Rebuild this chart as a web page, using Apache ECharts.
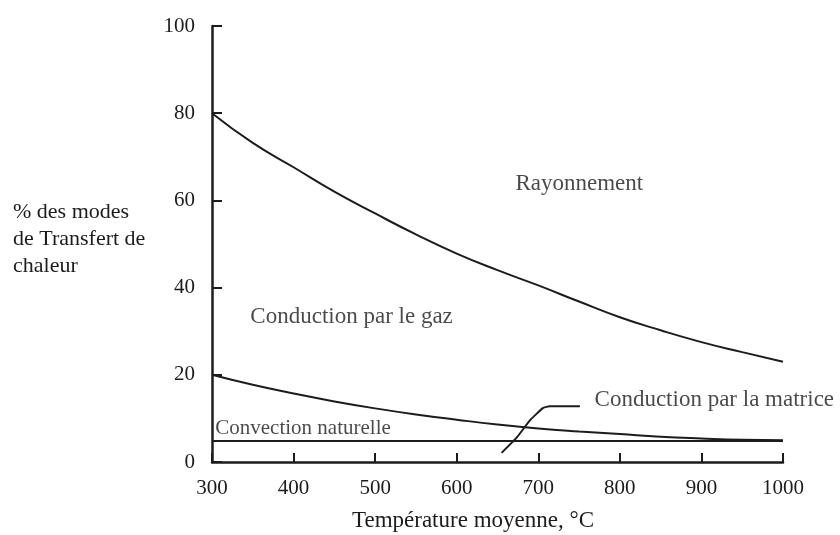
<!DOCTYPE html>
<html>
<head>
<meta charset="utf-8">
<script src="https://cdn.jsdelivr.net/npm/echarts@6/dist/echarts.min.js"></script>
<style>html,body{margin:0;padding:0;background:#fff}#c{width:840px;height:535px}</style>
</head>
<body>
<div id="c"></div>
<script>
var temps = [300, 350, 400, 450, 500, 550, 600, 650, 700, 750, 800, 850, 900, 950, 1000];
var rayonnementBoundary = [80, 73.2, 67.6, 62, 57, 52.2, 47.8, 44, 40.5, 36.8, 33.2, 30.2, 27.5, 25.2, 23];
var gazBoundary = [20, 17.7, 15.7, 13.9, 12.3, 10.9, 9.7, 8.6, 7.7, 7.0, 6.4, 5.8, 5.4, 5.1, 5.0];
var convectionLevel = [4.8, 4.8, 4.8, 4.8, 4.8, 4.8, 4.8, 4.8, 4.8, 4.8, 4.8, 4.8, 4.8, 4.8, 4.8];
var leaderX = [655, 674, 690, 706, 714, 751];
var leaderY = [2.1, 5.7, 9.6, 12.4, 12.8, 12.8];
var labelX = [672, 347, 304, 769];
var labelY = [63.8, 33.2, 7.8, 14.2];
var labelText = ['Rayonnement', 'Conduction par le gaz', 'Convection naturelle', 'Conduction par la matrice'];
var labelSize = [23, 23, 21, 23];
var xTicks = [300, 400, 500, 600, 700, 800, 900, 1000];
var yTicks = [0, 20, 40, 60, 80, 100];

var FONT = 'Liberation Serif';
var INK = '#1c1c1c';
function pairs(xs, ys) { return xs.map(function (x, i) { return [x, ys[i]]; }); }

var chart = echarts.init(document.getElementById('c'));
var lineStyle = { color: INK, width: 2 };
chart.setOption({
  animation: false,
  grid: { left: 212, right: 57, top: 26, bottom: 73 },
  xAxis: {
    type: 'value', min: xTicks[0], max: xTicks[xTicks.length - 1], interval: 100,
    axisLine: { lineStyle: { color: INK, width: 2.5 } },
    axisTick: { inside: true, length: 9, lineStyle: { color: INK, width: 2 } },
    axisLabel: { color: INK, fontFamily: FONT, fontSize: 21, margin: 16, formatter: function (v) { return String(v); } },
    splitLine: { show: false }
  },
  yAxis: {
    type: 'value', min: yTicks[0], max: yTicks[yTicks.length - 1], interval: 20,
    axisLine: { lineStyle: { color: INK, width: 2.5 } },
    axisTick: { inside: true, length: 10, lineStyle: { color: INK, width: 2 } },
    axisLabel: { color: INK, fontFamily: FONT, fontSize: 21, margin: 17, formatter: function (v) { return String(v); } },
    splitLine: { show: false }
  },
  graphic: [
    { type: 'text', left: 13, top: 199, style: { text: '% des modes\nde Transfert de\nchaleur', fontFamily: FONT, fontSize: 22, lineHeight: 27, fill: INK } },
    { type: 'text', left: 352, top: 509, style: { text: 'Température moyenne, °C', fontFamily: FONT, fontSize: 23, fill: INK } }
  ],
  series: [
    { type: 'line', smooth: true, showSymbol: false, data: pairs(temps, rayonnementBoundary), lineStyle: lineStyle },
    { type: 'line', smooth: true, showSymbol: false, data: pairs(temps, gazBoundary), lineStyle: lineStyle },
    { type: 'line', showSymbol: false, data: pairs(temps, convectionLevel), lineStyle: lineStyle },
    { type: 'line', smooth: 0.15, showSymbol: false, data: pairs(leaderX, leaderY), lineStyle: { color: INK, width: 2 } },
    {
      type: 'scatter', symbolSize: 0,
      data: labelX.map(function (x, i) {
        return { value: [x, labelY[i]], label: { show: true, position: 'right', distance: 0, formatter: labelText[i], fontFamily: FONT, fontSize: labelSize[i], color: INK } };
      })
    }
  ]
});
</script>
</body>
</html>
